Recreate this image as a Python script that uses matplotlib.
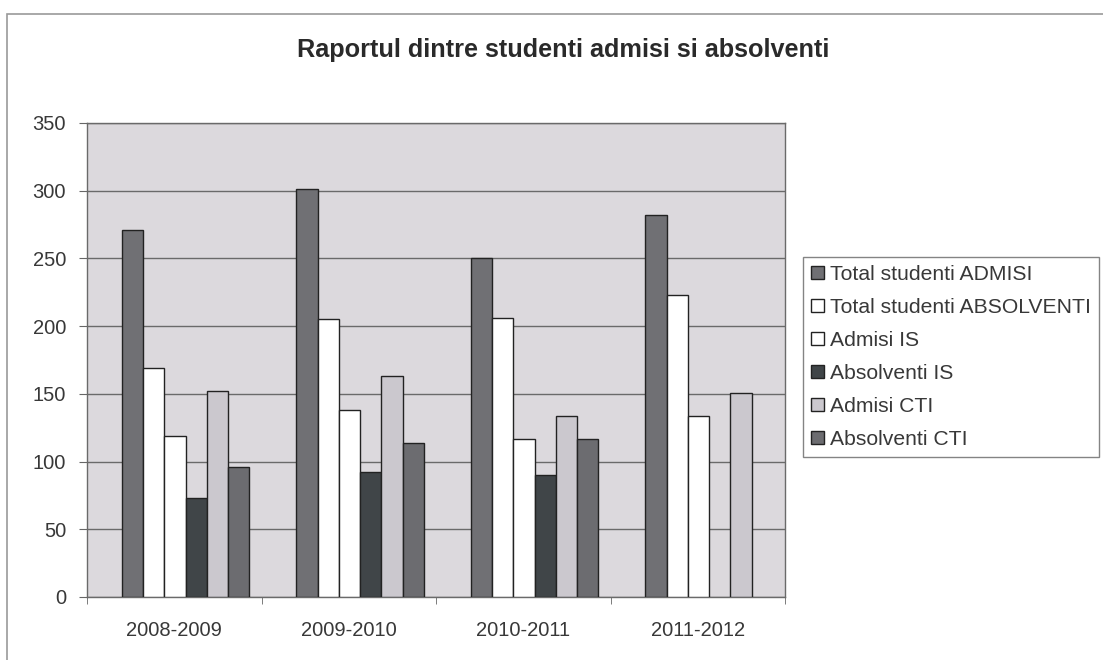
import numpy as np
import matplotlib
matplotlib.use("Agg")
import matplotlib.pyplot as plt
from matplotlib.patches import Rectangle

plt.rcParams['font.family'] = ['Liberation Sans', 'DejaVu Sans']

years = ["2008-2009", "2009-2010", "2010-2011", "2011-2012"]
series_names = ["Total studenti ADMISI", "Total studenti ABSOLVENTI", "Admisi IS",
                "Absolventi IS", "Admisi CTI", "Absolventi CTI"]
total_admisi = [271, 301, 250, 282]
total_absolventi = [169, 205, 206, 223]
admisi_is = [119, 138, 117, 134]
absolventi_is = [73, 92, 90, np.nan]
admisi_cti = [152, 163, 134, 151]
absolventi_cti = [96, 114, 117, np.nan]
series = [total_admisi, total_absolventi, admisi_is, absolventi_is, admisi_cti, absolventi_cti]
colors = ["#707074", "#ffffff", "#ffffff", "#404548", "#cbc8ce", "#6c6c70"]

fig = plt.figure(figsize=(11.03, 6.60), dpi=100)
fig.patch.set_facecolor("white")
# outer chart frame
fig.patches.append(Rectangle((7/1103, -0.01), 1.02, 1 - 14/660 + 0.01, transform=fig.transFigure,
                             fill=False, edgecolor="#9a9a9a", linewidth=1.2))

ax = fig.add_axes([87/1103, 1 - 597/660, 698/1103, 474/660])
ax.set_facecolor("#dcd9dd")

x = np.arange(len(years))
w = 0.122
shift = 0.065
for i, (vals, c, name) in enumerate(zip(series, colors, series_names)):
    ax.bar(x + (i - 2.5) * w + shift, vals, width=w, color=c, edgecolor="#222222",
           linewidth=1.0, label=name, zorder=3)

ax.set_ylim(0, 350)
ax.set_yticks(np.arange(0, 351, 50))
ax.set_xlim(-0.5, len(years) - 0.5)
ax.set_xticks(x)
ax.set_xticklabels(years)
ax.set_xticks(np.arange(-0.5, len(years), 1), minor=True)
ax.tick_params(axis='x', which='major', length=0, pad=17, labelsize=14.5, labelcolor="#383838")
ax.tick_params(axis='x', which='minor', length=5, color="#666666")
ax.tick_params(axis='y', length=6, color="#666666", labelsize=14.5, labelcolor="#383838", pad=9)
ax.grid(axis='y', color="#6a6a6a", linewidth=1.0, zorder=1)
for s in ax.spines.values():
    s.set_color("#6a6a6a")
    s.set_linewidth(1.0)

fig.text(563/1103, 1 - 50/660, "Raportul dintre studenti admisi si absolventi",
         ha="center", va="center", fontsize=18.2, fontweight="bold", color="#2a2a2a")

leg = fig.legend(loc="upper left", bbox_to_anchor=(803/1103, 1 - 257/660), frameon=True,
                 fancybox=False, edgecolor="#666666", fontsize=15.2, handlelength=0.6,
                 handleheight=0.6, handletextpad=0.3, labelspacing=0.66,
                 borderpad=0.38, borderaxespad=0)
leg.get_frame().set_linewidth(1.0)
for t in leg.get_texts():
    t.set_color("#383838")

fig.savefig("out.png", dpi=100)
